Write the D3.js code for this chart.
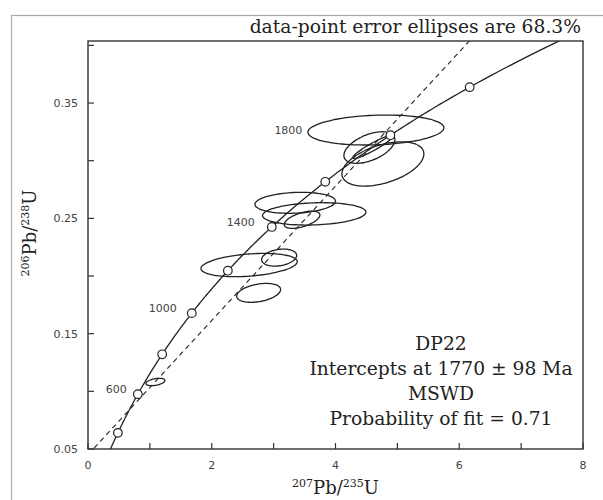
<!DOCTYPE html>
<html>
<head>
<meta charset="utf-8">
<script src="https://cdn.jsdelivr.net/npm/d3@7"></script>
<style>
  body { margin: 0; background: #fff; }
  text { fill: #222; }
</style>
</head>
<body>
<svg id="chart" width="603" height="500"></svg>
<script>
// decay constants (per year)
const L238 = 1.55125e-10;
const L235 = 9.8485e-10;

// error ellipses: centre (207Pb/235U, 206Pb/238U), half extents, correlation
const ellX   = [4.653, 4.548, 4.604, 4.766, 3.349, 3.656, 3.460, 2.604, 3.089, 2.758, 1.090];
const ellY   = [0.3266, 0.3114, 0.3120, 0.2972, 0.2635, 0.2539, 0.2488, 0.2095, 0.2160, 0.1854, 0.1081];
const ellSx  = [1.099, 0.412, 0.323, 0.662, 0.651, 0.835, 0.288, 0.778, 0.283, 0.355, 0.153];
const ellSy  = [0.0130, 0.0137, 0.0100, 0.0192, 0.0091, 0.0097, 0.0075, 0.0101, 0.0074, 0.0082, 0.0032];
const ellRho = [0.15, 0.5, 0.93, 0.45, 0.15, 0.15, 0.55, 0.3, 0.25, 0.35, 0.4];

// concordia age markers (Ma) and the ones that get labels
const markerAges = [400, 600, 800, 1000, 1200, 1400, 1600, 1800, 2000];
const labelAges  = [600, 1000, 1400, 1800];

// discordia intercept ages (Ma), as drawn
const interceptAges = [520, 1740];

const xTicks = [0, 1, 2, 3, 4, 5, 6, 7, 8];
const xTickLabels = [0, 2, 4, 6, 8];
const yTicks = [0.05, 0.10, 0.15, 0.20, 0.25, 0.30, 0.35, 0.40];
const yTickLabels = [0.05, 0.15, 0.25, 0.35];

const infoLines = ["DP22", "Intercepts at 1770 \u00b1 98 Ma", "MSWD", "Probability of fit = 0.71"];
const titleText = "data-point error ellipses are 68.3%";

// label gap (px) left of each labelled marker
const labelGap = {600: 11, 1000: 15, 1400: 17, 1800: 88};

const svg = d3.select("#chart");
const pLeft = 88, pRight = 583, pTop = 41, pBottom = 449;

const x = d3.scaleLinear().domain([0, 8]).range([pLeft, pRight]);
const y = d3.scaleLinear().domain([0.05, 0.4038]).range([pBottom, pTop]);

const conc = t => [Math.exp(L235 * t * 1e6) - 1, Math.exp(L238 * t * 1e6) - 1];

// outer grey frame
svg.append("rect")
  .attr("x", 11.5).attr("y", 15.5).attr("width", 620).attr("height", 520)
  .attr("fill", "none").attr("stroke", "#aaa").attr("stroke-width", 1.2);

svg.append("defs").append("clipPath").attr("id", "clip")
  .append("rect").attr("x", pLeft).attr("y", pTop)
  .attr("width", pRight - pLeft).attr("height", pBottom - pTop);

const plot = svg.append("g").attr("clip-path", "url(#clip)");

// error ellipses
const ellPath = i => {
  const pts = d3.range(0, 360, 4).map(a => {
    const th = a * Math.PI / 180;
    const px = ellX[i] + ellSx[i] * Math.cos(th);
    const py = ellY[i] + ellSy[i] * (ellRho[i] * Math.cos(th) + Math.sqrt(1 - ellRho[i] ** 2) * Math.sin(th));
    return [x(px), y(py)];
  });
  return d3.line().curve(d3.curveCardinalClosed)(pts);
};
plot.selectAll("path.ell")
  .data(d3.range(ellX.length))
  .enter().append("path")
    .attr("class", "ell")
    .attr("d", ellPath)
    .attr("fill", "none")
    .attr("stroke", "#222")
    .attr("stroke-width", 1.3);

// discordia
const p1 = conc(interceptAges[0]), p2 = conc(interceptAges[1]);
const slope = (p2[1] - p1[1]) / (p2[0] - p1[0]);
plot.append("line")
  .attr("x1", x(0)).attr("y1", y(p1[1] - slope * p1[0]))
  .attr("x2", x(8)).attr("y2", y(p1[1] + slope * (8 - p1[0])))
  .attr("stroke", "#222").attr("stroke-width", 1.1)
  .attr("stroke-dasharray", "5,4");

// concordia curve
plot.append("path")
  .attr("d", d3.line().x(d => x(d[0])).y(d => y(d[1]))(d3.range(0, 2401, 10).map(conc)))
  .attr("fill", "none").attr("stroke", "#222").attr("stroke-width", 1.3);

plot.selectAll("circle.age")
  .data(markerAges)
  .enter().append("circle")
    .attr("class", "age")
    .attr("cx", d => x(conc(d)[0]))
    .attr("cy", d => y(conc(d)[1]))
    .attr("r", 4.3)
    .attr("fill", "#fff").attr("stroke", "#222").attr("stroke-width", 1.2);

svg.selectAll("text.age")
  .data(labelAges)
  .enter().append("text")
    .attr("class", "age")
    .attr("x", d => x(conc(d)[0]) - labelGap[d])
    .attr("y", d => y(conc(d)[1]) - 1)
    .attr("text-anchor", "end")
    .style("font", "11px 'DejaVu Sans'")
    .style("fill", "#444")
    .text(d => d);

// frame
svg.append("rect")
  .attr("x", pLeft).attr("y", pTop).attr("width", pRight - pLeft).attr("height", pBottom - pTop)
  .attr("fill", "none").attr("stroke", "#333").attr("stroke-width", 1.4);

// ticks (inward)
svg.selectAll("line.xt").data(xTicks).enter().append("line")
  .attr("x1", d => x(d)).attr("x2", d => x(d))
  .attr("y1", pBottom).attr("y2", pBottom - 6)
  .attr("stroke", "#333").attr("stroke-width", 1.2);
svg.selectAll("line.yt").data(yTicks).enter().append("line")
  .attr("x1", pLeft).attr("x2", pLeft + 6)
  .attr("y1", d => y(d)).attr("y2", d => y(d))
  .attr("stroke", "#333").attr("stroke-width", 1.2);

svg.selectAll("text.xt").data(xTickLabels).enter().append("text")
  .attr("x", d => x(d)).attr("y", pBottom + 20)
  .attr("text-anchor", "middle")
  .style("font", "11px 'DejaVu Sans'").style("fill", "#444")
  .text(d => d);
svg.selectAll("text.yt").data(yTickLabels).enter().append("text")
  .attr("x", pLeft - 10).attr("y", d => y(d) + 4)
  .attr("text-anchor", "end")
  .style("font", "11px 'DejaVu Sans'").style("fill", "#444")
  .text(d => d.toFixed(2));

// axis titles with superscripts
function isoLabel(sel, a, b) {
  sel.append("tspan").attr("font-size", 11).attr("dy", -7).text(a);
  sel.append("tspan").attr("font-size", 18).attr("dy", 7).text("Pb/");
  sel.append("tspan").attr("font-size", 11).attr("dy", -7).text(b);
  sel.append("tspan").attr("font-size", 18).attr("dy", 7).text("U");
}
svg.append("text")
  .attr("x", (pLeft + pRight) / 2).attr("y", 494)
  .attr("text-anchor", "middle")
  .style("font-family", "'DejaVu Serif'")
  .call(isoLabel, "207", "235");
svg.append("text")
  .attr("transform", "translate(36," + ((pTop + pBottom) / 2 - 12) + ") rotate(-90)")
  .attr("text-anchor", "middle")
  .style("font-family", "'DejaVu Serif'")
  .call(isoLabel, "206", "238");

// title
svg.append("text")
  .attr("x", 581).attr("y", 33)
  .attr("text-anchor", "end")
  .style("font", "18.7px 'DejaVu Serif'")
  .text(titleText);

// info block
svg.selectAll("text.info").data(infoLines).enter().append("text")
  .attr("x", 441).attr("y", (d, i) => 350 + i * 25)
  .attr("text-anchor", "middle")
  .style("font", "18.7px 'DejaVu Serif'")
  .text(d => d);
</script>
</body>
</html>
